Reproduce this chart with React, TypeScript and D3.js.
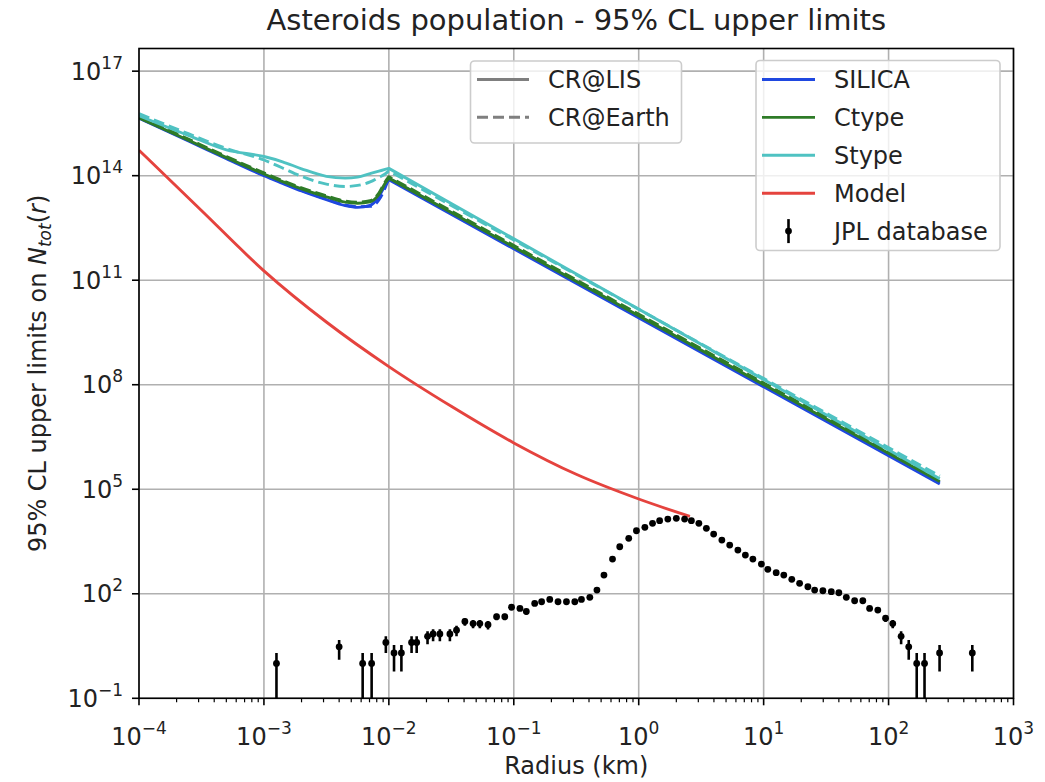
import React from "react";
import * as d3 from "d3";

const WIDTH = 1045;
const HEIGHT = 782;
const PLOT = { left: 139, right: 1013.5, top: 48.5, bottom: 698.3 };
const FONT = "DejaVu Sans, Liberation Sans, sans-serif";

// Axis decades
const X_EXPONENTS = [-4, -3, -2, -1, 0, 1, 2, 3];
const Y_EXPONENTS = [-1, 2, 5, 8, 11, 14, 17];
const Y_TOP = 4.47e17;

// Shared radius grid (km) for the upper-limit curves
const curveRadius = [1e-4, 2.51e-4, 5.01e-4, 1e-3, 1.41e-3, 2.0e-3, 3.16e-3, 4.47e-3, 5.62e-3, 7.08e-3, 8.32e-3, 9.33e-3, 1.0e-2, 257];

// 95% CL upper limits, CR@LIS (solid) and CR@Earth (dashed)
const silicaLIS = [4.47e15, 9.77e14, 3.09e14, 1.0e14, 6.03e13, 3.63e13, 2.04e13, 1.38e13, 1.23e13, 1.41e13, 2.51e13, 5.25e13, 7.59e13, 1.41e5];
const silicaEarth = [4.68e15, 1.02e15, 3.24e14, 1.05e14, 6.31e13, 3.8e13, 2.14e13, 1.45e13, 1.29e13, 1.32e13, 2.0e13, 4.47e13, 8.32e13, 1.55e5];
const ctypeLIS = [4.57e15, 1.02e15, 3.31e14, 1.12e14, 6.76e13, 4.17e13, 2.45e13, 1.74e13, 1.62e13, 1.78e13, 2.88e13, 6.03e13, 8.51e13, 1.66e5];
const ctypeEarth = [5.01e15, 1.1e15, 3.55e14, 1.2e14, 7.24e13, 4.47e13, 2.63e13, 1.86e13, 1.74e13, 1.91e13, 3.16e13, 6.61e13, 9.33e13, 1.86e5];
const stypeLIS = [5.25e15, 1.41e15, 5.5e14, 3.55e14, 2.51e14, 1.58e14, 9.55e13, 8.51e13, 9.12e13, 1.15e14, 1.35e14, 1.51e14, 1.62e14, 2.0e5];
const stypeEarth = [6.03e15, 1.58e15, 6.03e14, 2.82e14, 1.66e14, 9.55e13, 5.75e13, 4.9e13, 5.25e13, 6.61e13, 8.91e13, 1.12e14, 1.38e14, 2.4e5];
const PEAK_INDEX = 12;

// Population model
const modelRadius = [1e-4, 3.16e-4, 1e-3, 3.16e-3, 1e-2, 3.16e-2, 0.1, 0.316, 1, 2.57];
const modelValues = [5.37e14, 1.0e13, 1.86e11, 6.31e9, 3.31e8, 2.4e7, 2.14e6, 2.69e5, 5.25e4, 1.66e4];

// JPL database counts per radius bin
const jplRadius = [
  1.26e-3, 4.0e-3, 6.17e-3, 7.28e-3, 9.46e-3, 1.1e-2, 1.26e-2, 1.52e-2, 1.67e-2, 2.04e-2,
  2.26e-2, 2.56e-2, 3.08e-2, 3.48e-2, 4.06e-2, 4.72e-2, 5.35e-2, 6.22e-2, 7.28e-2, 8.47e-2,
  9.59e-2, 0.112, 0.126, 0.147, 0.167, 0.194, 0.226, 0.264, 0.308, 0.348,
  0.406, 0.463, 0.527, 0.617, 0.705, 0.832, 0.959, 1.12, 1.29, 1.47,
  1.71, 2.0, 2.33, 2.64, 3.03, 3.48, 3.98, 4.63, 5.35, 6.22,
  7.14, 8.2, 9.59, 10.8, 12.6, 14.5, 16.8, 19.4, 22.6, 25.6,
  29.8, 34.8, 40.0, 45.9, 53.5, 62.2, 70.5, 82.0, 94.6, 108,
  126, 145, 168, 194, 256, 468,
];
const jplCounts = [
  1, 3, 1, 1, 4, 2, 2, 4, 4, 6,
  7, 7, 7, 9, 16, 14, 14, 13, 22, 22,
  41, 38, 31, 53, 59, 69, 59, 59, 59, 69,
  79, 128, 345, 993, 2239, 3900, 6440, 8070, 10500, 12500,
  13960, 14620, 13960, 12500, 10500, 7550, 5180, 3480, 2500, 1800,
  1294, 993, 714, 503, 402, 345, 260, 200, 159, 128,
  122, 115, 107, 79, 63, 63, 38, 34, 20, 14,
  6, 3, 1, 1, 2, 2,
];

const COLORS = { silica: "#1f48e0", ctype: "#2e7b27", stype: "#4fc2c2", model: "#e5433e", grey: "#7f7f7f" };

const limitSeries = [
  { values: silicaLIS, color: COLORS.silica, dashed: false },
  { values: silicaEarth, color: COLORS.silica, dashed: true },
  { values: ctypeLIS, color: COLORS.ctype, dashed: false },
  { values: ctypeEarth, color: COLORS.ctype, dashed: true },
  { values: stypeLIS, color: COLORS.stype, dashed: false },
  { values: stypeEarth, color: COLORS.stype, dashed: true },
];

const styleLegend = [
  { label: "CR@LIS", dashed: false },
  { label: "CR@Earth", dashed: true },
];
const materialLegend = [
  { label: "SILICA", color: COLORS.silica },
  { label: "Ctype", color: COLORS.ctype },
  { label: "Stype", color: COLORS.stype },
  { label: "Model", color: COLORS.model },
];

const LINE_W = 2.9;
const DASH = "11,5";

function Pow10({ exp, x, y, anchor }: { exp: number; x: number; y: number; anchor: "middle" | "end" }) {
  const sup = exp < 0 ? `\u2212${-exp}` : `${exp}`;
  return (
    <text x={x} y={y} textAnchor={anchor} fontSize={24} fill="#222">
      10
      <tspan dy={-11} fontSize={17}>{sup}</tspan>
    </text>
  );
}

export default function App() {
  const x = d3.scaleLog().domain([1e-4, 1e3]).range([PLOT.left, PLOT.right]);
  const y = d3.scaleLog().domain([1e-1, Y_TOP]).range([PLOT.bottom, PLOT.top]);

  const smooth = d3
    .line<[number, number]>()
    .x((d) => d[0])
    .y((d) => d[1])
    .curve(d3.curveMonotoneX);

  // smooth up to the turnover, straight power law beyond it
  const limitPath = (values: number[]) => {
    const pts: [number, number][] = curveRadius.map((r, i) => [x(r), y(values[i])]);
    const head = smooth(pts.slice(0, PEAK_INDEX + 1)) || "";
    const tail = pts.slice(PEAK_INDEX + 1).map((p) => `L${p[0]},${p[1]}`).join("");
    return head + tail;
  };

  const modelPath = smooth(modelRadius.map((r, i) => [x(r), y(modelValues[i])] as [number, number])) || "";

  const minorX: number[] = [];
  for (let k = -4; k < 3; k++) for (let m = 2; m <= 9; m++) minorX.push(m * Math.pow(10, k));

  const plotW = PLOT.right - PLOT.left;
  const plotH = PLOT.bottom - PLOT.top;

  const leg1 = { x: 470.5, y: 61, w: 211, h: 82, rows: [79.5, 117.3] };
  const leg2 = { x: 756, y: 60.5, w: 244, h: 190, rows: [79.5, 117.4, 155.3, 193.2, 231.1] };

  return (
    <svg
      width={WIDTH}
      height={HEIGHT}
      style={{ position: "absolute", left: 0, top: 0, background: "#fff" }}
      fontFamily={FONT}
    >
      <defs>
        <clipPath id="plot-area">
          <rect x={PLOT.left} y={PLOT.top} width={plotW} height={plotH} />
        </clipPath>
      </defs>
      <rect x={0} y={0} width={WIDTH} height={HEIGHT} fill="#fff" />

      {/* grid */}
      <g stroke="#b0b0b0" strokeWidth={1.6}>
        {X_EXPONENTS.map((e) => (
          <line key={`gx${e}`} x1={x(Math.pow(10, e))} x2={x(Math.pow(10, e))} y1={PLOT.top} y2={PLOT.bottom} />
        ))}
        {Y_EXPONENTS.map((e) => (
          <line key={`gy${e}`} x1={PLOT.left} x2={PLOT.right} y1={y(Math.pow(10, e))} y2={y(Math.pow(10, e))} />
        ))}
      </g>

      <g clipPath="url(#plot-area)" fill="none" strokeLinejoin="round">
        {limitSeries.map((s, i) => (
          <path
            key={`lim${i}`}
            d={limitPath(s.values)}
            stroke={s.color}
            strokeWidth={LINE_W}
            strokeDasharray={s.dashed ? DASH : undefined}
          />
        ))}
        <path d={modelPath} stroke={COLORS.model} strokeWidth={LINE_W} />

        {/* JPL counts with Poisson error bars */}
        <g>
          {jplRadius.map((r, i) => {
            const n = jplCounts[i];
            const err = Math.sqrt(n);
            const lo = n - err;
            const cx = x(r);
            const yLo = lo > 0 ? y(lo) : PLOT.bottom + 10;
            return (
              <g key={`jpl${i}`}>
                <line x1={cx} x2={cx} y1={y(n + err)} y2={yLo} stroke="#000" strokeWidth={2.6} />
                <circle cx={cx} cy={y(n)} r={3.4} fill="#000" />
              </g>
            );
          })}
        </g>
      </g>

      {/* frame */}
      <rect x={PLOT.left} y={PLOT.top} width={plotW} height={plotH} fill="none" stroke="#000" strokeWidth={1.6} />

      {/* ticks */}
      <g stroke="#000">
        {X_EXPONENTS.map((e) => (
          <line key={`tx${e}`} x1={x(Math.pow(10, e))} x2={x(Math.pow(10, e))} y1={PLOT.bottom} y2={PLOT.bottom + 7} strokeWidth={1.6} />
        ))}
        {minorX.map((v, i) => (
          <line key={`mx${i}`} x1={x(v)} x2={x(v)} y1={PLOT.bottom} y2={PLOT.bottom + 4} strokeWidth={1.2} />
        ))}
        {Y_EXPONENTS.map((e) => (
          <line key={`ty${e}`} x1={PLOT.left - 7} x2={PLOT.left} y1={y(Math.pow(10, e))} y2={y(Math.pow(10, e))} strokeWidth={1.6} />
        ))}
      </g>

      {/* tick labels */}
      {X_EXPONENTS.map((e) => (
        <Pow10 key={`lx${e}`} exp={e} x={x(Math.pow(10, e))} y={745} anchor="middle" />
      ))}
      {Y_EXPONENTS.map((e) => (
        <Pow10 key={`ly${e}`} exp={e} x={123} y={y(Math.pow(10, e)) + 8.5} anchor="end" />
      ))}

      {/* title and axis labels */}
      <text x={(PLOT.left + PLOT.right) / 2} y={30} textAnchor="middle" fontSize={29} fill="#222">
        Asteroids population - 95% CL upper limits
      </text>
      <text x={(PLOT.left + PLOT.right) / 2} y={774} textAnchor="middle" fontSize={24} fill="#222">
        Radius (km)
      </text>
      <text
        transform={`translate(46, ${(PLOT.top + PLOT.bottom) / 2}) rotate(-90)`}
        textAnchor="middle"
        fontSize={24}
        fill="#222"
      >
        95% CL upper limits on <tspan fontStyle="italic">N</tspan>
        <tspan fontStyle="italic" fontSize={17} dy={5}>tot</tspan>
        <tspan dy={-5}>(</tspan>
        <tspan fontStyle="italic">r</tspan>)
      </text>

      {/* legend: cosmic-ray spectrum */}
      <g>
        <rect x={leg1.x} y={leg1.y} width={leg1.w} height={leg1.h} rx={4} fill="#fff" fillOpacity={0.8} stroke="#cccccc" strokeWidth={1.6} />
        {styleLegend.map((d, i) => (
          <g key={`l1${i}`}>
            <line
              x1={477}
              x2={529}
              y1={leg1.rows[i]}
              y2={leg1.rows[i]}
              stroke={COLORS.grey}
              strokeWidth={LINE_W}
              strokeDasharray={d.dashed ? DASH : undefined}
            />
            <text x={548} y={leg1.rows[i] + 8.5} fontSize={24} fill="#222">
              {d.label}
            </text>
          </g>
        ))}
      </g>

      {/* legend: materials, model and data */}
      <g>
        <rect x={leg2.x} y={leg2.y} width={leg2.w} height={leg2.h} rx={4} fill="#fff" fillOpacity={0.8} stroke="#cccccc" strokeWidth={1.6} />
        {materialLegend.map((d, i) => (
          <g key={`l2${i}`}>
            <line x1={762} x2={815} y1={leg2.rows[i]} y2={leg2.rows[i]} stroke={d.color} strokeWidth={LINE_W} />
            <text x={834} y={leg2.rows[i] + 8.5} fontSize={24} fill="#222">
              {d.label}
            </text>
          </g>
        ))}
        <line x1={788.5} x2={788.5} y1={leg2.rows[4] - 12} y2={leg2.rows[4] + 12} stroke="#000" strokeWidth={2.6} />
        <circle cx={788.5} cy={leg2.rows[4]} r={3.4} fill="#000" />
        <text x={834} y={leg2.rows[4] + 8.5} fontSize={24} fill="#222">
          JPL database
        </text>
      </g>
    </svg>
  );
}
